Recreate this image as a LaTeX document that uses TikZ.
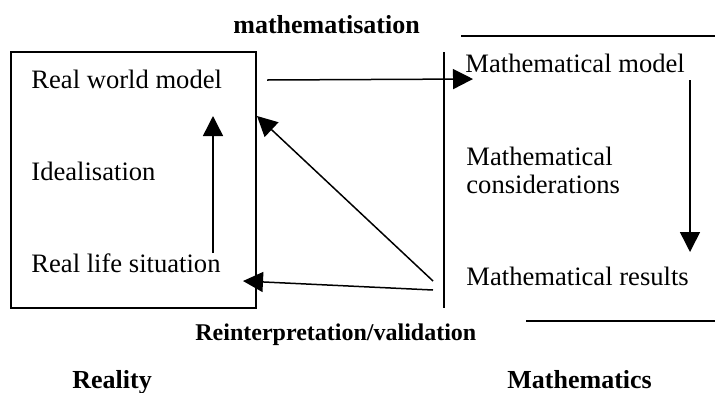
\documentclass[tikz,border=0pt]{standalone}
\usepackage{fontspec}
\setmainfont{Liberation Serif}
\usetikzlibrary{arrows.meta}
\begin{document}
\begin{tikzpicture}[x=0.5pt,y=-0.5pt,
  lbl/.style={anchor=base west,inner sep=0pt,font=\fontsize{13.3}{15}\selectfont},
  bld/.style={anchor=base west,inner sep=0pt,font=\fontsize{13}{15}\selectfont\bfseries},
  ln/.style={line width=0.75pt},
  arr/.style={line width=0.75pt,-{Triangle[length=10pt,width=10pt]}}]
\path[use as bounding box] (0,0) rectangle (715,392);
% reality box
\draw[ln] (11,52) rectangle (256,308);
% separator and rules
\coordinate (vt) at (444,52);
\coordinate (vb) at (444,308);
\draw[ln] (vt) -- (vb);
\coordinate (r1a) at (461,36);
\coordinate (r1b) at (715,36);
\draw[ln] (r1a) -- (r1b);
\coordinate (r2a) at (526,321);
\coordinate (r2b) at (715,321);
\draw[ln] (r2a) -- (r2b);
% texts
\node[lbl] (rwm) at (31,88) {Real world model};
\node[lbl] (ide) at (31,180) {Idealisation};
\node[lbl] (rls) at (31,272) {Real life situation};
\node[lbl] (mm) at (465,72) {Mathematical model};
\node[lbl] (mc1) at (466,165) {Mathematical};
\node[lbl] (mc2) at (466,193) {considerations};
\node[lbl] (mr) at (466,285) {Mathematical results};
\node[bld] (mat) at (233,33) {mathematisation};
\node[bld,font=\fontsize{12}{14}\selectfont\bfseries] (rei) at (195,340) {Reinterpretation/validation};
\node[bld] (rea) at (72,388) {Reality};
\node[bld] (mth) at (507,388) {Mathematics};
% arrows
\coordinate (a1s) at (213,253);
\coordinate (a1e) at (213,116);
\draw[arr] (a1s) -- (a1e);
\coordinate (a2s) at (267,80);
\coordinate (a2e) at (473,79);
\draw[arr] (a2s) -- (a2e);
\coordinate (a3s) at (690,80);
\coordinate (a3e) at (690,252);
\draw[arr] (a3s) -- (a3e);
\coordinate (a4s) at (433,281);
\coordinate (a4e) at (257,116);
\draw[arr] (a4s) -- (a4e);
\coordinate (a5s) at (433,290);
\coordinate (a5e) at (243,281);
\draw[arr] (a5s) -- (a5e);
\end{tikzpicture}
\end{document}
